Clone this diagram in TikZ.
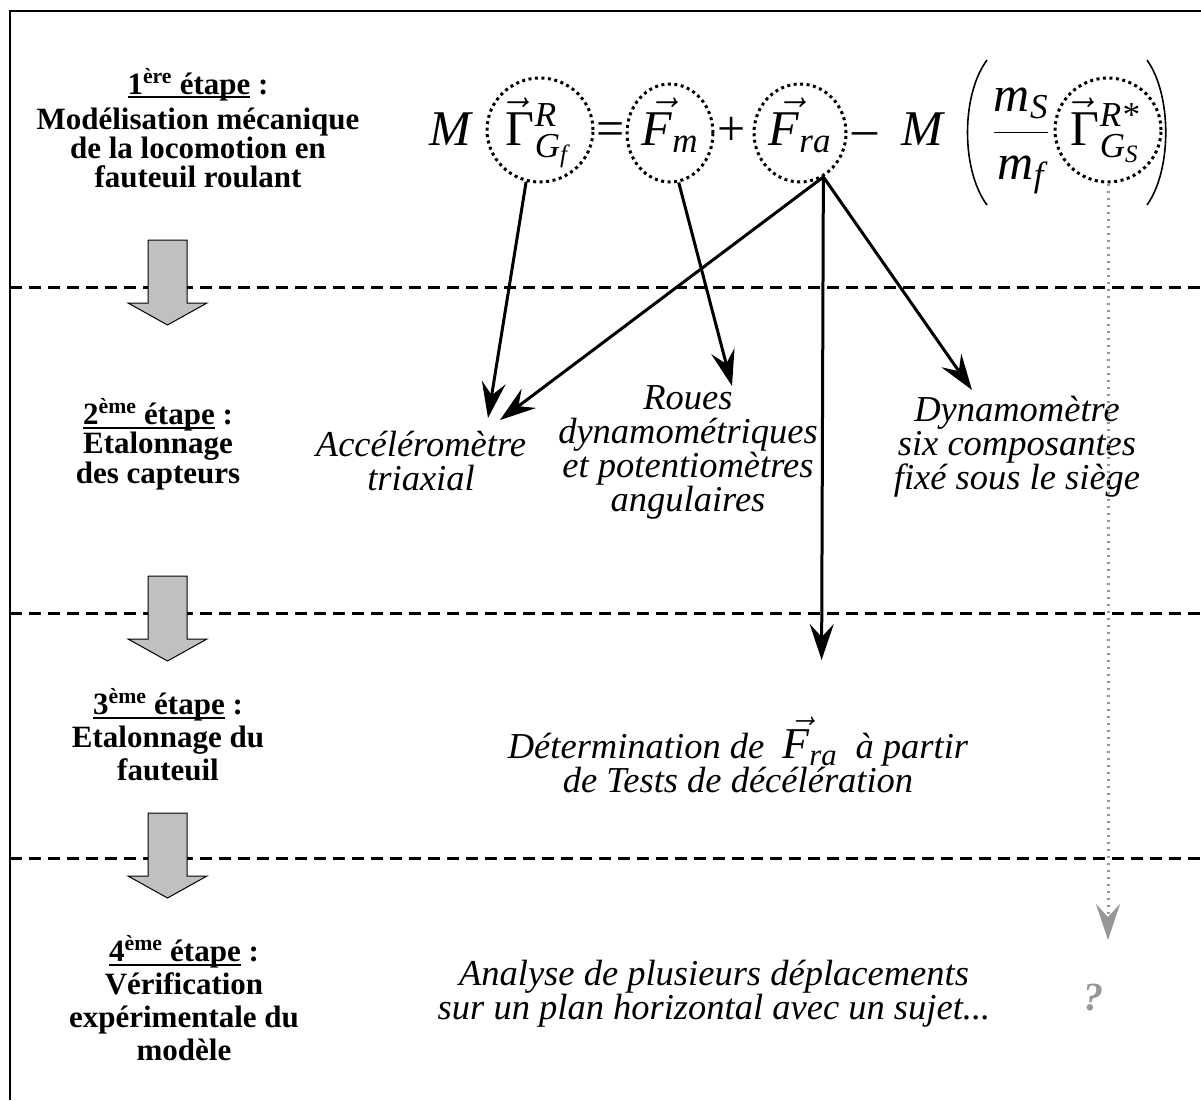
\documentclass[tikz,border=0pt]{standalone}
\usepackage{fix-cm}
\usepackage{amsmath}
\usepackage{fontspec}
\setmainfont{Liberation Serif}
\usetikzlibrary{arrows.meta,shapes.geometric}

\definecolor{grisbloc}{RGB}{192,192,192}
\definecolor{grisq}{RGB}{150,150,150}

\newcommand{\grandeq}{\fontsize{50}{50}\selectfont}
\newcommand{\vit}[1]{\text{\itshape #1}}
\newcommand{\vF}{\skew{5}{\vec}{\vit{F}}}
\newcommand{\vGam}{\smash[t]{\skew{-4}{\vec}{\text{Γ}}}}
\newsavebox{\boiteS}
\newcommand{\souligne}[1]{\sbox{\boiteS}{#1}\rlap{\rule[-4pt]{\wd\boiteS}{2pt}}\usebox{\boiteS}}

\tikzset{
  etape/.style={align=center,font=\bfseries\fontsize{31}{33}\selectfont},
  capteur/.style={align=center,font=\itshape\fontsize{36.5}{34}\selectfont},
  terme/.style={ellipse,draw,line width=3pt,dash pattern=on 3pt off 3.5pt,inner sep=0pt},
  fl/.style={-{Stealth[length=36pt,width=24pt,inset=13pt]},line width=3pt},
  tirets/.style={line width=3pt,dash pattern=on 12pt off 7pt},
  bloc/.style={draw,line width=1pt,fill=grisbloc},
}

\begin{document}
\begin{tikzpicture}[x=1pt,y=-1pt]
  \useasboundingbox (0,0) rectangle (1201,1100);

  % cadre et separations
  \draw[line width=2pt] (1201,11) -- (10,11) -- (10,1100);
  \foreach \ys in {287,613,858}
    \draw[tirets] (10,\ys) -- (1201,\ys);

  % fleches des etapes
  \foreach \yt in {240,576,813}
    \draw[bloc] (148,\yt) -- (187,\yt) -- (187,\yt+63) -- (207,\yt+63)
      -- (167.5,\yt+85) -- (128,\yt+63) -- (148,\yt+63) -- cycle;

  % etapes
  \node (e1) [etape,font=\bfseries\fontsize{31}{29}\selectfont] at (198,128)
    {\souligne{1\textsuperscript{ère} étape} :\\[6pt]Modélisation mécanique\\de la locomotion en\\fauteuil roulant};
  \node (e2) [etape,font=\bfseries\fontsize{31}{28}\selectfont] at (158,444)
    {\souligne{2\textsuperscript{ème} étape} :\\Etalonnage\\des capteurs};
  \node (e3) [etape] at (168,735)
    {\souligne{3\textsuperscript{ème} étape} :\\Etalonnage du\\fauteuil};
  \node (e4) [etape] at (184,998)
    {\souligne{4\textsuperscript{ème} étape} :\\Vérification\\expérimentale du\\modèle};

  % equation
  \node (M1) [anchor=base,font=\grandeq] at (451,145) {\textit{M}};
  \node (gG) [terme,minimum width=106pt,minimum height=104pt] at (540,130) {};
  \node (tgG) [anchor=base,font=\grandeq] at (537,145) {$\vGam^{\vit{R}}_{\vit{G}_{\vit{f}}}$};
  \node (eg) [anchor=base,font=\grandeq] at (611,145) {=};
  \node (fM) [terme,minimum width=86pt,minimum height=98pt] at (670,133) {};
  \node (tfM) [anchor=base,font=\grandeq] at (670,145) {$\vF_{\vit{m}}$};
  \node (pl) [anchor=base,font=\grandeq] at (732,145) {+};
  \node (fRA) [terme,minimum width=92pt,minimum height=98pt] at (800,133) {};
  \node (tfRA) [anchor=base,font=\grandeq] at (800,145) {$\vF_{\vit{ra}}$};
  \node (mo) [anchor=base,font=\grandeq] at (865,145) {–};
  \node (M2) [anchor=base,font=\grandeq] at (923,145) {\textit{M}};
  \node (fr) [anchor=base,font=\grandeq] at (1021,145)
    {$\dfrac{\vit{m}_{\vit{S}}}{\vit{m}_{\vit{f}}}$};
  \node (gS) [terme,minimum width=106pt,minimum height=104pt] at (1108,130) {};
  \node (tgS) [anchor=base,font=\grandeq] at (1105,145) {$\vGam^{\vit{R*}}_{\vit{G}_{\vit{S}}}$};
  \draw[line width=1.6pt] (987,60) .. controls (961,95) and (961,170) .. (987,205);
  \draw[line width=1.6pt] (1147,60) .. controls (1172,95) and (1172,170) .. (1147,205);

  % capteurs et mesures
  \node (acc) [capteur] at (421,461) {Accéléromètre\\triaxial};
  \node (rou) [capteur] at (688,452)
    {Roues\\dynamométriques\\et potentiomètres\\angulaires};
  \node (dyn) [capteur] at (1017,447)
    {Dynamomètre\\six composantes\\fixé sous le siège};
  \node (det) [capteur] at (738,755)
    {Détermination de\ \ {\fontsize{44}{34}\selectfont$\vF_{\vit{ra}}$}\ \ à partir\\de Tests de décélération};
  \node (ana) [capteur] at (714,994)
    {Analyse de plusieurs déplacements\\sur un plan horizontal avec un sujet...};
  \node (qu) [font=\bfseries\itshape\fontsize{40}{40}\selectfont,text=grisq] at (1093,998) {?};

  \coordinate (pA1) at (488,418);
  \coordinate (pA2) at (500,420);
  \coordinate (pR) at (732,386);
  \coordinate (pD) at (972,390);
  \coordinate (pT) at (821.6,660);
  \coordinate (pQ) at (1108,940);

  \draw[fl] (gG.-105) -- (pA1);
  \draw[fl] (fM.-80) -- (pR);
  \draw[fl] (fRA.-62) -- (pA2);
  \draw[fl] (fRA.-62) -- (pT);
  \draw[fl] (fRA.-62) -- (pD);
  \draw[fl,grisq,line width=3pt,dash pattern=on 2.5pt off 4.5pt] (gS.south) -- (pQ);
\end{tikzpicture}
\end{document}
